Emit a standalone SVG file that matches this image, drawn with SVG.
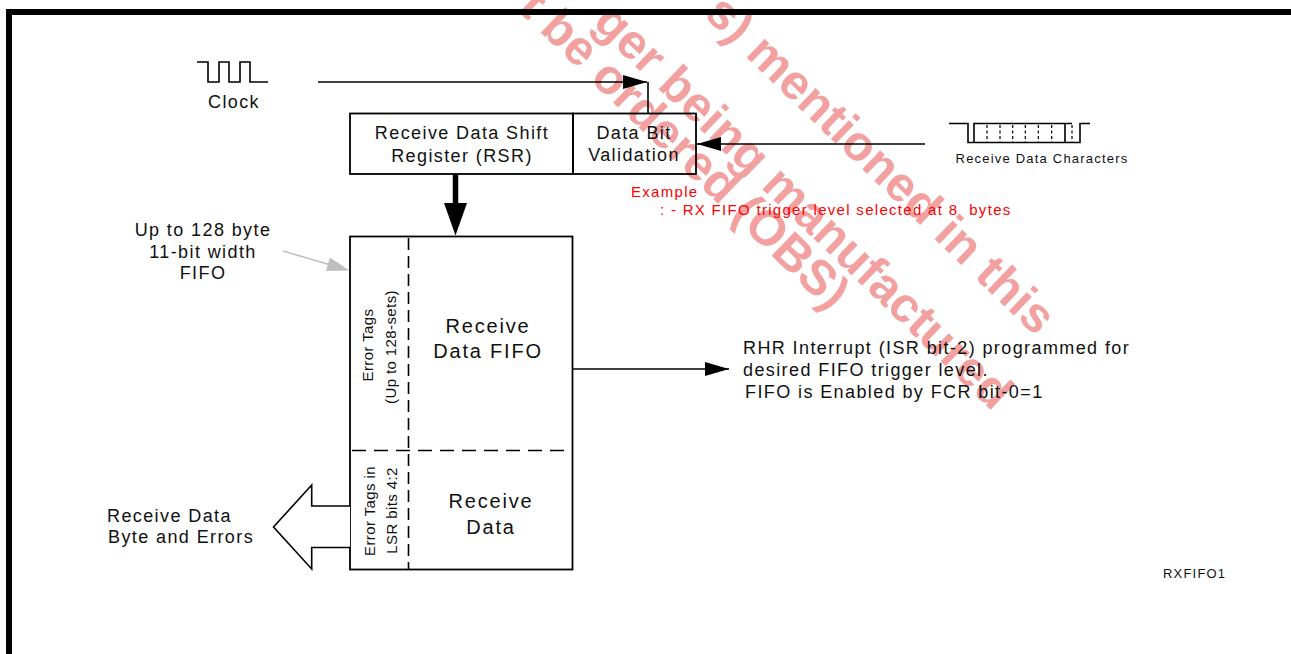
<svg xmlns="http://www.w3.org/2000/svg" width="1291" height="654" viewBox="0 0 1291 654">
<style>
text{font-family:"Liberation Sans",Arial,sans-serif;fill:#111}
.l{font-size:18px;letter-spacing:1.4px}
.m{font-size:20px;letter-spacing:1.8px}
.v{font-size:15px;letter-spacing:0.4px}
.s{font-size:13px;letter-spacing:1.2px}
.r{fill:#f00;font-size:15px;letter-spacing:1.3px}
.wm{font-size:49px;font-weight:bold;fill:#f2a0a0}
.ln{stroke:#000;stroke-width:1.6;fill:none}
.bx{stroke:#000;stroke-width:1.8;fill:none}
.dv{stroke:#000;stroke-width:1.6;fill:none;stroke-dasharray:12 6}
.dh{stroke:#000;stroke-width:1.6;fill:none;stroke-dasharray:14 8}
.dd{stroke:#000;stroke-width:1.2;fill:none;stroke-dasharray:3 2.5}
</style>
<defs>
<marker id="ah" markerUnits="userSpaceOnUse" markerWidth="24" markerHeight="14" viewBox="0 0 24 14" refX="24" refY="7" orient="auto">
<path d="M0,0 L24,7 L0,14 z" fill="#000"/>
</marker>
</defs>
<rect width="1291" height="654" fill="#fff"/>
<g id="watermark">
<text class="wm" text-anchor="end" transform="translate(1036,337) rotate(44)">s) mentioned in this</text>
<text class="wm" text-anchor="end" transform="translate(993,412) rotate(44)">ger being manufactured</text>
<text class="wm" text-anchor="end" transform="translate(830,312) rotate(44)">t be ordered (OBS)</text>
</g>
<path id="frame" d="M9,654 V12 H1291" stroke="#000" stroke-width="6" fill="none"/>
<g id="clock">
<path class="ln" d="M197,62 H208 V82 H219 V62 H229 V82 H240 V62 H250 V82 H268"/>
<text class="l" x="234" y="108" text-anchor="middle">Clock</text>
</g>
<g id="rsr">
<rect class="bx" x="350" y="113.5" width="223" height="60.5"/>
<text class="l" x="462" y="139" text-anchor="middle">Receive Data Shift</text>
<text class="l" x="462" y="161.5" text-anchor="middle">Register (RSR)</text>
</g>
<g id="validation">
<rect class="bx" x="573" y="113.5" width="123" height="60.5"/>
<text class="l" x="634" y="138.5" text-anchor="middle">Data Bit</text>
<text class="l" x="634" y="161" text-anchor="middle">Validation</text>
</g>
<g id="rx-chars">
<path class="ln" d="M949,123.5 H968 V142.5 H974 V123.5 H1065 V142.5 H974 M1065,123.5 H1072 M1065,142.5 H1080 V123.5 H1090"/>
<path class="dd" d="M987,125 V142 M1000,125 V142 M1012.7,125 V142 M1025.3,125 V142 M1038.3,125 V142 M1051.7,125 V142 M1072,125 V142"/>
<text class="s" x="1042" y="163.3" text-anchor="middle">Receive Data Characters</text>
</g>
<g id="fifo">
<rect class="bx" x="350" y="236.5" width="222.5" height="333"/>
<path class="dv" d="M408.5,238 V569"/>
<path class="dh" d="M352,450.5 H571"/>
<text class="v" transform="translate(373,345) rotate(-90)" text-anchor="middle">Error Tags</text>
<text class="v" transform="translate(396,347) rotate(-90)" text-anchor="middle">(Up to 128-sets)</text>
<text class="m" x="488" y="332.7" text-anchor="middle">Receive</text>
<text class="m" x="488" y="357.7" text-anchor="middle">Data FIFO</text>
<text class="v" transform="translate(375,511) rotate(-90)" text-anchor="middle">Error Tags in</text>
<text class="v" transform="translate(396.5,510.5) rotate(-90)" text-anchor="middle">LSR bits 4:2</text>
<text class="m" x="491" y="508" text-anchor="middle">Receive</text>
<text class="m" x="491" y="534" text-anchor="middle">Data</text>
</g>
<g id="fifo-label">
<text class="l" x="203" y="236" text-anchor="middle">Up to 128 byte</text>
<text class="l" x="203" y="257.5" text-anchor="middle">11-bit width</text>
<text class="l" x="203" y="279" text-anchor="middle">FIFO</text>
</g>
<g id="output-label">
<text class="l" x="107" y="522">Receive Data</text>
<text class="l" x="108" y="543">Byte and Errors</text>
</g>
<g id="rhr-label">
<text class="l" x="743" y="354">RHR Interrupt (ISR bit-2) programmed for</text>
<text class="l" x="743" y="376">desired FIFO trigger level.</text>
<text class="l" x="745" y="397.5">FIFO is Enabled by FCR bit-0=1</text>
</g>
<g id="example">
<text class="r" x="631" y="196.5">Example</text>
<text class="r" x="660" y="215" xml:space="preserve">: - RX FIFO trigger level selected at 8  bytes</text>
</g>
<text class="s" x="1163" y="578" letter-spacing="1.3">RXFIFO1</text>
<g id="connectors">
<path class="ln" d="M318,82 H647" marker-end="url(#ah)"/>
<path class="ln" d="M648,82 V113.5"/>
<path class="ln" d="M925,144 H697" marker-end="url(#ah)"/>
<path class="ln" d="M572.5,369 H729" marker-end="url(#ah)"/>
<path d="M455.5,174 V204" stroke="#000" stroke-width="5.5"/>
<path d="M444,203 H467 L455.5,235.5 z" fill="#000"/>
<path d="M283,251 L330,264.8" stroke="#bfbfbf" stroke-width="1.6"/>
<path d="M349.5,270.5 L325.9,271 L329.9,257.6 z" fill="#bfbfbf"/>
<path d="M350,506 H311.7 V485 L273.5,527 L311.7,569 V547.5 H350" stroke="#000" stroke-width="1.6" fill="#fff"/>
</g>
</svg>
